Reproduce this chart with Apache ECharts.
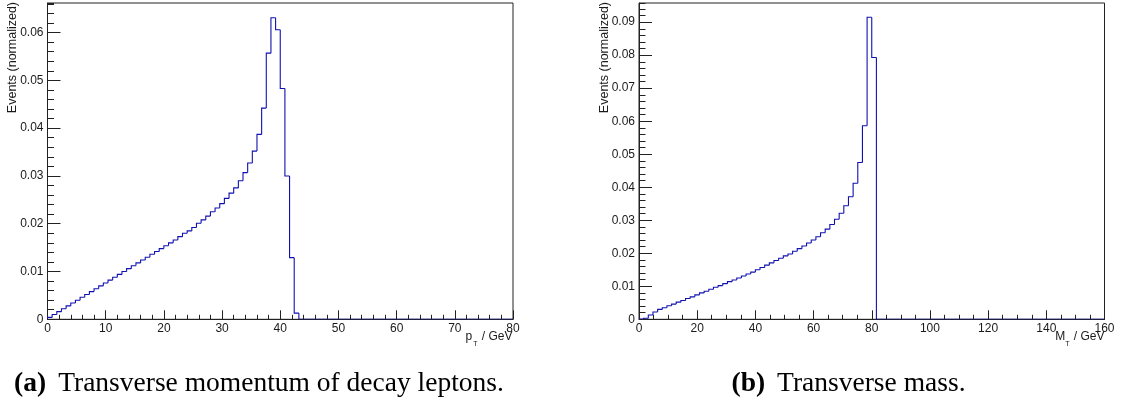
<!DOCTYPE html>
<html><head><meta charset="utf-8">
<script src="https://cdn.jsdelivr.net/npm/echarts@6/dist/echarts.min.js"></script>
<style>html,body{margin:0;padding:0;background:#fff}#c{width:1124px;height:407px}</style>
</head><body><div id="c"></div>
<script>
// ---- data ----
// (a) lepton transverse momentum: 100 bins of 0.8 GeV over 0-80 GeV
const ptRange = [0, 80];
const ptBinWidth = 0.8;
const ptValues = [
  0.0004,0.0010,0.0016,0.0022,0.0028,0.0034,0.0040,0.0046,0.0052,0.0058,
  0.0064,0.0070,0.0076,0.0082,0.0088,0.0094,0.0100,0.0106,0.0112,0.0118,
  0.0124,0.0130,0.0136,0.0142,0.0148,0.0154,0.0160,0.0166,0.0173,0.0180,
  0.0185,0.0192,0.0201,0.0208,0.0216,0.0225,0.0233,0.0242,0.0253,0.0264,
  0.0275,0.0290,0.0307,0.0327,0.0352,0.0387,0.0442,0.0557,0.0631,0.0606,
  0.0483,0.0300,0.0129,0.0013,0,0,0,0,0,0,
  0,0,0,0,0,0,0,0,0,0,
  0,0,0,0,0,0,0,0,0,0,
  0,0,0,0,0,0,0,0,0,0,
  0,0,0,0,0,0,0,0,0,0
];
const ptXTicks = [0,10,20,30,40,50,60,70,80];
const ptYTicks = [0,0.01,0.02,0.03,0.04,0.05,0.06];
const ptYMax = 0.0662;

// (b) transverse mass: 100 bins of 1.6 GeV over 0-160 GeV
const mtRange = [0, 160];
const mtBinWidth = 1.6;
const mtValues = [
  0.0001,0.0003,0.0013,0.0022,0.0030,0.0035,0.0041,0.0046,0.0052,0.0057,
  0.0063,0.0068,0.0074,0.0080,0.0085,0.0091,0.0097,0.0102,0.0108,0.0114,
  0.0119,0.0125,0.0131,0.0137,0.0143,0.0150,0.0157,0.0164,0.0171,0.0178,
  0.0185,0.0192,0.0198,0.0206,0.0214,0.0222,0.0231,0.0240,0.0250,0.0262,
  0.0273,0.0287,0.0303,0.0321,0.0344,0.0371,0.0412,0.0475,0.0586,0.0915,
  0.0793,0,0,0,0,0,0,0,0,0,
  0,0,0,0,0,0,0,0,0,0,
  0,0,0,0,0,0,0,0,0,0,
  0,0,0,0,0,0,0,0,0,0,
  0,0,0,0,0,0,0,0,0,0
];
const mtXTicks = [0,20,40,60,80,100,120,140,160];
const mtYTicks = [0,0.01,0.02,0.03,0.04,0.05,0.06,0.07,0.08,0.09];
const mtYMax = 0.0958;

const yTitle = 'Events (normalized)';
const captionA = ['(a)', 'Transverse momentum of decay leptons.'];
const captionB = ['(b)', 'Transverse mass.'];

// ---- bins -> rows [lo, hi, value, previous value, isLast] ----
function binRows(values, width, lo) {
  return values.map((v, i) => [lo + i * width, lo + (i + 1) * width, v, i === 0 ? 0 : values[i - 1], i === values.length - 1 ? 1 : 0]);
}
const lineColor = '#1010b0';
function renderBin(params, api) {
  const lo = api.value(0), hi = api.value(1), v = api.value(2), vp = api.value(3), last = api.value(4);
  const pts = [api.coord([lo, vp]), api.coord([lo, v]), api.coord([hi, v])];
  if (last) pts.push(api.coord([hi, 0]));
  return { type: 'polyline', shape: { points: pts }, style: { stroke: lineColor, lineWidth: 1.1, fill: null } };
}

const ink = '#222';
const lab = { color: '#1a1a1a', fontFamily: 'Liberation Sans', fontSize: 12 };

function xAxisFor(grid, ticks, minorSplit) {
  return {
    type: 'value', gridIndex: grid, position: 'bottom',
    min: ticks[0], max: ticks[ticks.length - 1], interval: ticks[1] - ticks[0],
    axisLine: { show: true, lineStyle: { color: ink, width: 1 } },
    axisTick: { show: true, inside: true, length: 9, lineStyle: { color: ink } },
    minorTick: { show: true, splitNumber: minorSplit, length: 4.5, lineStyle: { color: ink } },
    splitLine: { show: false }, minorSplitLine: { show: false },
    axisLabel: Object.assign({ margin: 3, showMinLabel: true, showMaxLabel: true, hideOverlap: false }, lab)
  };
}
function yAxesFor(grid, ticks, max) {
  const step = ticks[1] - ticks[0];
  return [{
    type: 'value', gridIndex: grid, position: 'left',
    min: 0, max: max, interval: step,
    axisLine: { show: true, lineStyle: { color: ink, width: 1 } },
    axisTick: { show: true, inside: true, length: 13, lineStyle: { color: ink } },
    splitLine: { show: false },
    axisLabel: Object.assign({ margin: 4, showMaxLabel: false, showMinLabel: true, hideOverlap: false }, lab)
  }, {
    type: 'value', gridIndex: grid, position: 'left',
    min: 0, max: max, interval: step / 5,
    axisLine: { show: false },
    axisTick: { show: true, inside: true, length: 6.5, lineStyle: { color: ink } },
    splitLine: { show: false },
    axisLabel: { show: false }
  }];
}

const gridTop = 3, gridH = 316.3, gridW = 465.5;
const titleFont = '12.5px "Liberation Sans"';
const option = {
  animation: false,
  backgroundColor: '#fff',
  grid: [
    { left: 47.5, top: gridTop, width: gridW, height: gridH, show: true, borderColor: ink, borderWidth: 1, backgroundColor: 'transparent', containLabel: false, outerBoundsMode: 'none' },
    { left: 639, top: gridTop, width: gridW, height: gridH, show: true, borderColor: ink, borderWidth: 1, backgroundColor: 'transparent', containLabel: false, outerBoundsMode: 'none' }
  ],
  xAxis: [xAxisFor(0, ptXTicks, 5), xAxisFor(1, mtXTicks, 4)],
  yAxis: [...yAxesFor(0, ptYTicks, ptYMax), ...yAxesFor(1, mtYTicks, mtYMax)],
  series: [
    { type: 'custom', xAxisIndex: 0, yAxisIndex: 0, data: binRows(ptValues, ptBinWidth, ptRange[0]),
      renderItem: renderBin, clip: true, silent: true, encode: { x: [0, 1], y: 2 } },
    { type: 'custom', xAxisIndex: 1, yAxisIndex: 2, data: binRows(mtValues, mtBinWidth, mtRange[0]),
      renderItem: renderBin, clip: true, silent: true, encode: { x: [0, 1], y: 2 } }
  ],
  graphic: [
    { type: 'text', x: 12.7, y: 2, rotation: Math.PI / 2,
      style: { text: yTitle, align: 'right', verticalAlign: 'middle', fill: '#1a1a1a', font: titleFont } },
    { type: 'text', x: 605, y: 2, rotation: Math.PI / 2,
      style: { text: yTitle, align: 'right', verticalAlign: 'middle', fill: '#1a1a1a', font: titleFont } },
    { type: 'text', x: 512.5, y: 329,
      style: { text: '{a|p}{b|T}{a| / GeV}', align: 'right', verticalAlign: 'top', fill: '#1a1a1a',
        rich: { a: { fontFamily: 'Liberation Sans', fontSize: 12, lineHeight: 16, verticalAlign: 'middle', fill: '#1a1a1a' },
                b: { fontFamily: 'Liberation Sans', fontSize: 7, lineHeight: 8, padding: [14, 1, 0, 1], verticalAlign: 'middle', fill: '#1a1a1a' } } } },
    { type: 'text', x: 1104.5, y: 329,
      style: { text: '{a|M}{b|T}{a| / GeV}', align: 'right', verticalAlign: 'top', fill: '#1a1a1a',
        rich: { a: { fontFamily: 'Liberation Sans', fontSize: 12, lineHeight: 16, verticalAlign: 'middle', fill: '#1a1a1a' },
                b: { fontFamily: 'Liberation Sans', fontSize: 7, lineHeight: 8, padding: [14, 1, 0, 0], verticalAlign: 'middle', fill: '#1a1a1a' } } } },
    { type: 'text', x: 259, y: 384,
      style: { text: '{b|' + captionA[0] + '}{n|' + captionA[1] + '}', align: 'center', verticalAlign: 'middle',
        rich: { b: { fontFamily: 'Liberation Serif', fontSize: 27.5, fontWeight: 'bold', fill: '#000' },
                n: { fontFamily: 'Liberation Serif', fontSize: 27.5, fill: '#000', padding: [0, 0, 0, 12] } } } },
    { type: 'text', x: 848.5, y: 384,
      style: { text: '{b|' + captionB[0] + '}{n|' + captionB[1] + '}', align: 'center', verticalAlign: 'middle',
        rich: { b: { fontFamily: 'Liberation Serif', fontSize: 27.5, fontWeight: 'bold', fill: '#000' },
                n: { fontFamily: 'Liberation Serif', fontSize: 27.5, fill: '#000', padding: [0, 0, 0, 12] } } } }
  ]
};
const chart = echarts.init(document.getElementById('c'), null, { renderer: 'canvas' });
chart.setOption(option);
</script>
</body></html>
